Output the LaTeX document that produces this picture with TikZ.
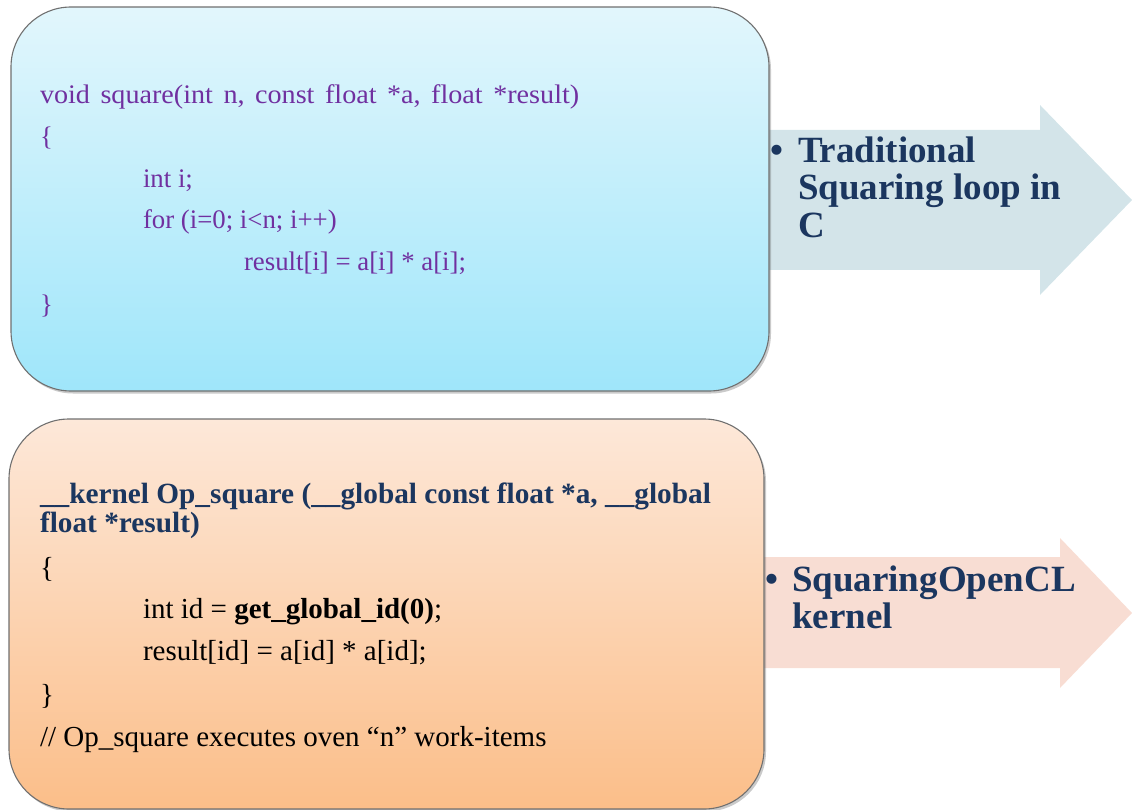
\documentclass[tikz,border=0pt]{standalone}
\usepackage{fontspec}
\setmainfont{Liberation Serif}
\usetikzlibrary{shadows}

\definecolor{codepurple}{HTML}{7030A0}
\definecolor{navy}{HTML}{1B365F}
\definecolor{cyantop}{HTML}{E2F6FC}
\definecolor{cyanbot}{HTML}{9FE6FA}
\definecolor{peachtop}{HTML}{FDE8D9}
\definecolor{peachbot}{HTML}{FBBE89}
\definecolor{arrowblue}{HTML}{D3E4E9}
\definecolor{arrowpink}{HTML}{F8DDD3}
\definecolor{edgegray}{HTML}{707070}

\tikzset{
  codebox/.style={draw=edgegray, line width=1.1pt, rounded corners=60pt,
    drop shadow={shadow xshift=2pt, shadow yshift=-2.5pt, opacity=0.35, fill=black!60}},
  codeline/.style={anchor=base west, inner sep=0pt, outer sep=0pt},
  topcode/.style={codeline, text=codepurple, font=\fontsize{26.8}{30}\selectfont},
  botcode/.style={codeline, text=black, font=\fontsize{29}{32}\selectfont},
  bothead/.style={codeline, text=navy, font=\fontsize{29.3}{32}\selectfont\bfseries},
  tagline/.style={codeline, text=navy, font=\fontsize{37}{39}\selectfont\bfseries},
}

\begin{document}
\begin{tikzpicture}[x=1pt, y=-1pt]
\useasboundingbox (0,0) rectangle (1132,810);

% block arrows behind the boxes
\fill[arrowblue] (740,130) -- (1040,130) -- (1040,105) -- (1132,200)
  -- (1040,295) -- (1040,270) -- (740,270) -- cycle;
\fill[arrowpink] (740,557) -- (1060,557) -- (1060,538) -- (1132,613)
  -- (1060,688) -- (1060,668) -- (740,668) -- cycle;

% code boxes
\path[codebox, top color=cyantop, bottom color=cyanbot]
  (11,7) rectangle (769,391);
\path[codebox, top color=peachtop, bottom color=peachbot]
  (9,419) rectangle (764,809);

% C version
\node[topcode] (c1) at (40,104) {\scalebox{1.05}[1]{\spaceskip=10pt\relax void square(int n, const float *a, float *result)}};
\node[topcode] (c2) at (40,146) {\{};
\node[topcode] (c3) at (143,188) {int i;};
\node[topcode] (c4) at (143,229) {for (i=0; i<n; i++)};
\node[topcode] (c5) at (244,271) {result[i] = a[i] * a[i];};
\node[topcode] (c6) at (40,313) {\}};

% OpenCL version
\node[bothead] (k1) at (40,503) {\_\_kernel Op\_square (\_\_global const float *a, \_\_global};
\node[bothead] (k2) at (40,532) {float *result)};
\node[botcode] (k3) at (40,577) {\{};
\node[botcode] (k4) at (143,618) {int id = \textbf{get\_global\_id(0)};};
\node[botcode] (k5) at (143,660) {result[id] = a[id] * a[id];};
\node[botcode] (k6) at (40,704) {\}};
\node[botcode] (k7) at (40,746) {// Op\_square executes oven “n” work-items};

% captions on the arrows
\node[tagline] (b1) at (770,163) {•};
\node[tagline] (t1) at (798,163) {Traditional};
\node[tagline] (t2) at (798,200) {Squaring loop in};
\node[tagline] (t3) at (798,238) {C};
\node[tagline] (b2) at (765,591) {•};
\node[tagline] (s1) at (792,591) {SquaringOpenCL};
\node[tagline] (s2) at (792,628) {kernel};
\end{tikzpicture}
\end{document}
